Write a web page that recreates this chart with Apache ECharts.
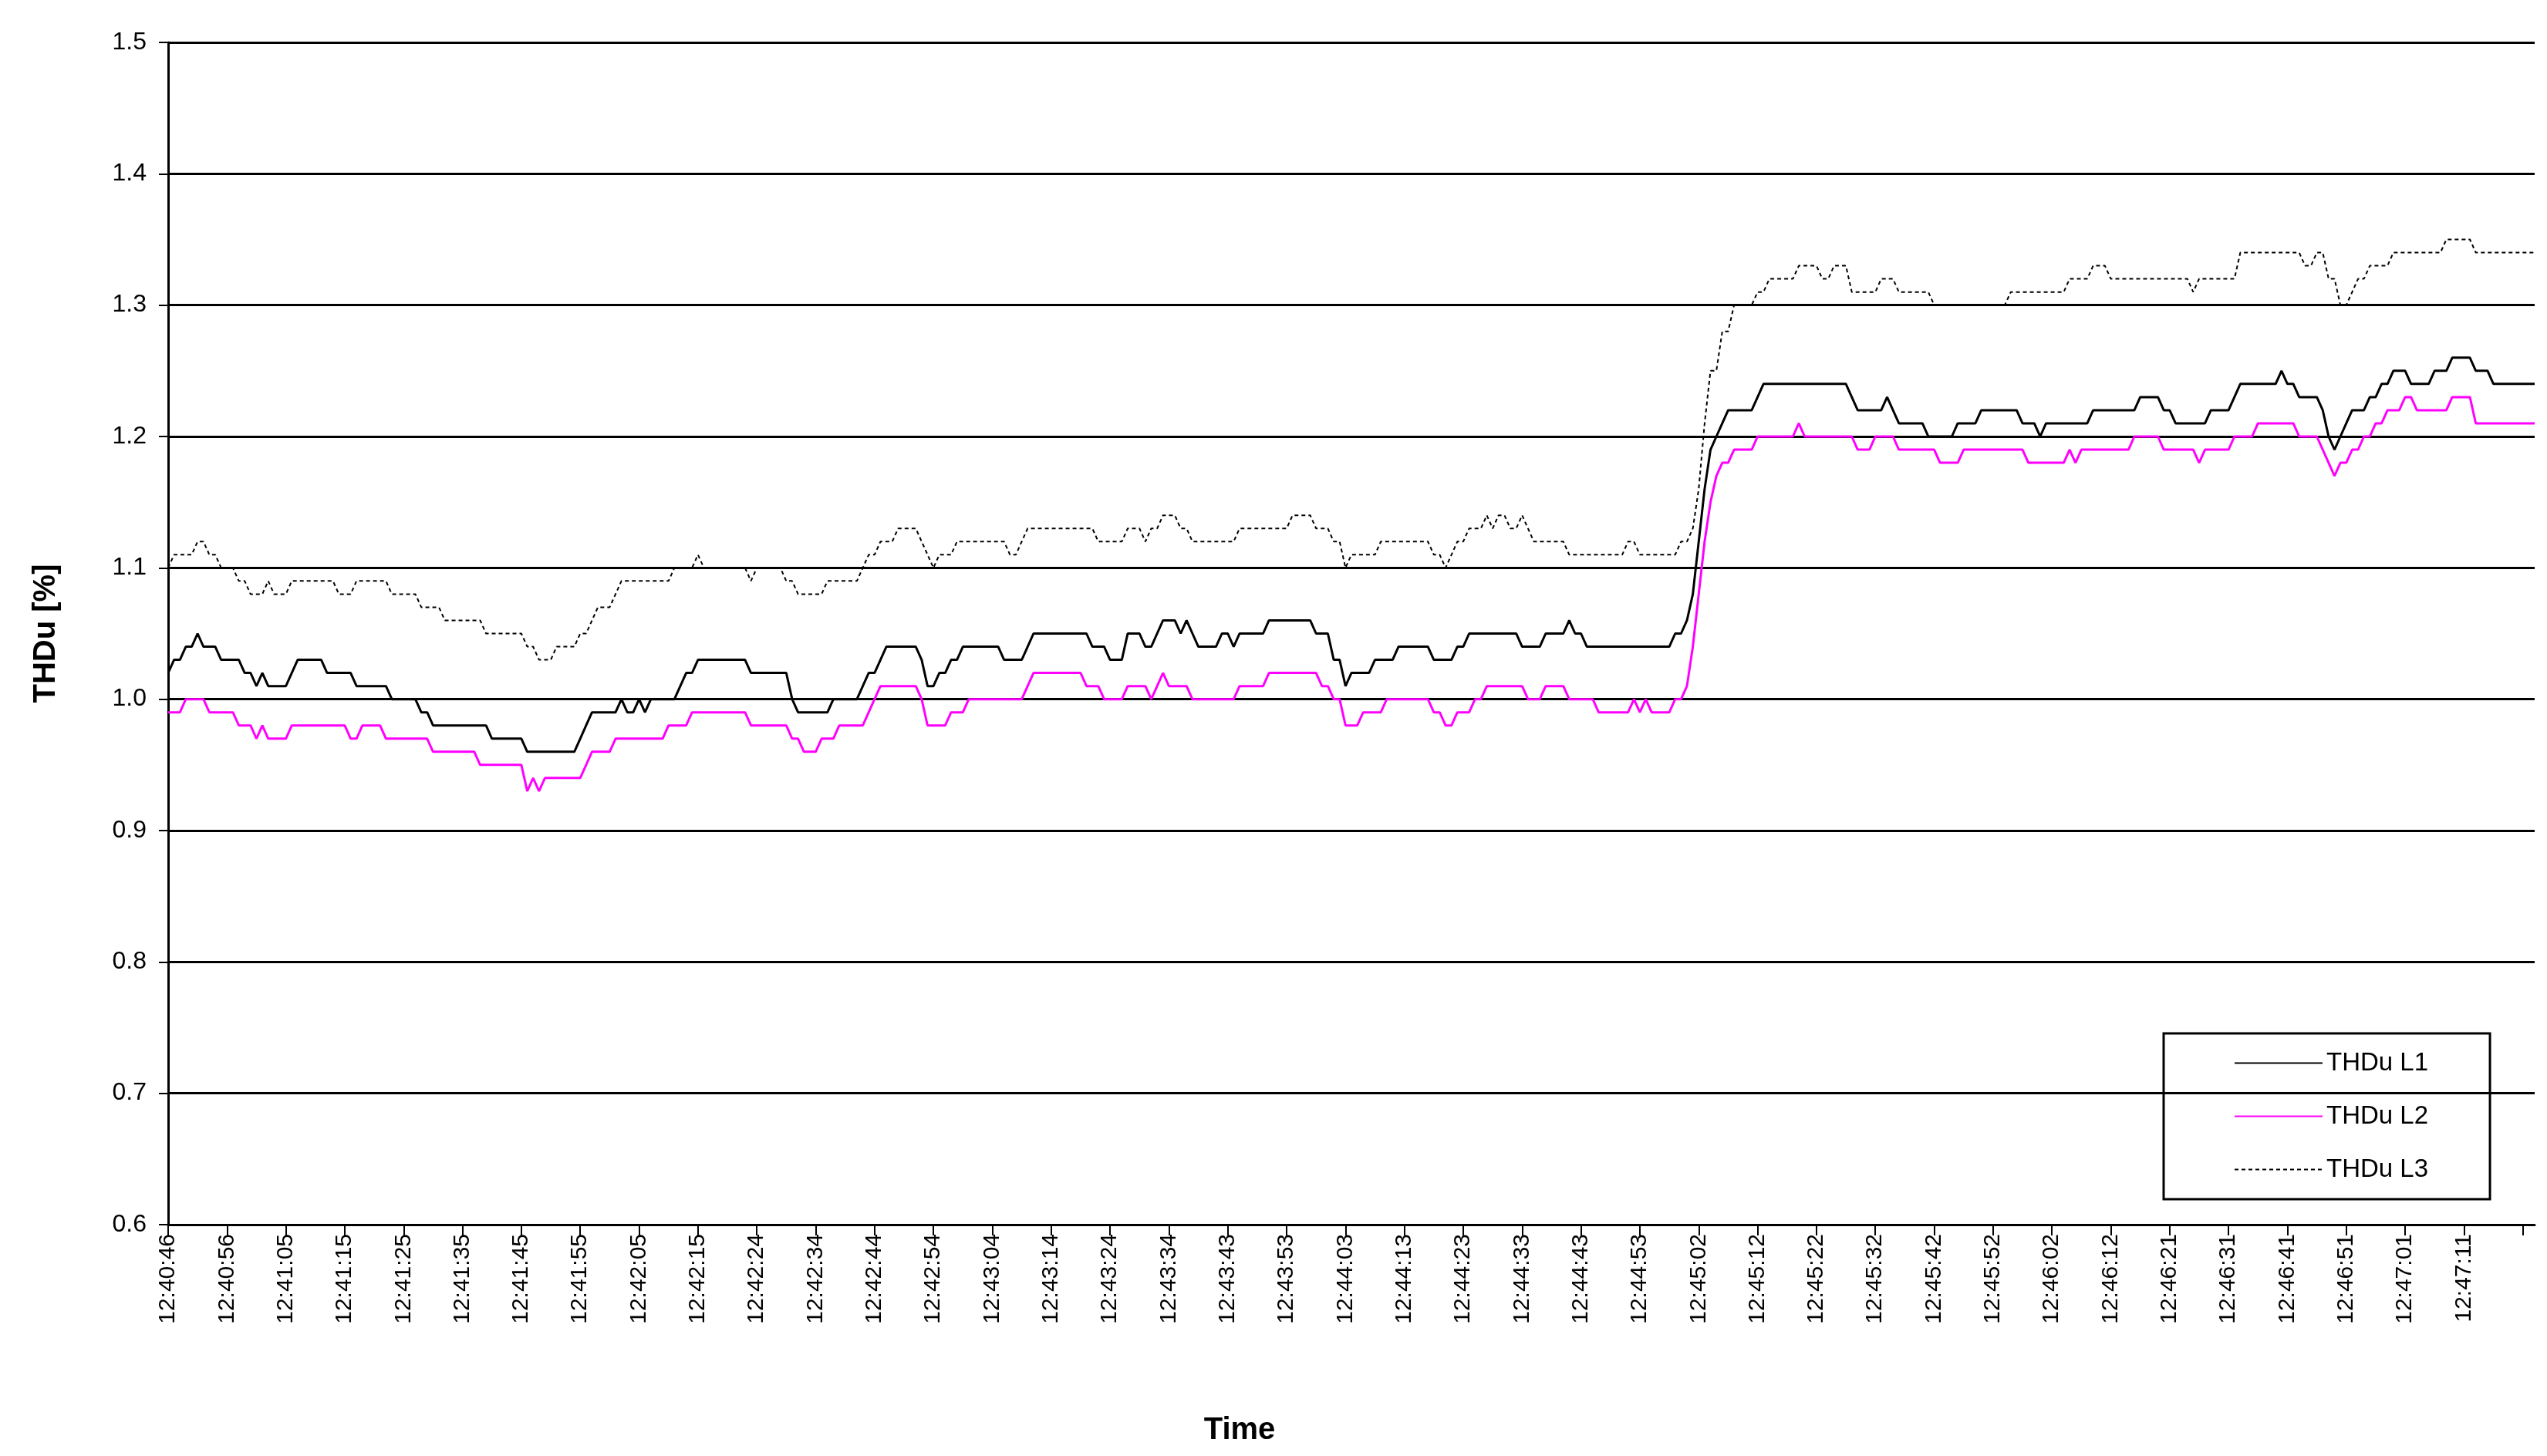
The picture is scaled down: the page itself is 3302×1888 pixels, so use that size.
<!DOCTYPE html>
<html><head><meta charset="utf-8">
<script src="https://cdn.jsdelivr.net/npm/echarts@6/dist/echarts.min.js"></script>
<style>html,body{margin:0;padding:0;background:#fff}#c{width:3302px;height:1888px}</style>
</head><body><div id="c"></div>
<script>
const tickLabels = ["12:40:46","12:40:56","12:41:05","12:41:15","12:41:25","12:41:35","12:41:45","12:41:55","12:42:05","12:42:15","12:42:24","12:42:34","12:42:44","12:42:54","12:43:04","12:43:14","12:43:24","12:43:34","12:43:43","12:43:53","12:44:03","12:44:13","12:44:23","12:44:33","12:44:43","12:44:53","12:45:02","12:45:12","12:45:22","12:45:32","12:45:42","12:45:52","12:46:02","12:46:12","12:46:21","12:46:31","12:46:41","12:46:51","12:47:01","12:47:11"];
const sampleCount = 403;
// [sample index, value] readings; each value holds until the next reading
const l1Readings = [[0,1.02],[1,1.03],[3,1.04],[5,1.05],[6,1.04],[9,1.03],[13,1.02],[15,1.01],[16,1.02],[17,1.01],[21,1.02],[22,1.03],[27,1.02],[32,1.01],[38,1.00],[43,0.99],[45,0.98],[55,0.97],[61,0.96],[70,0.97],[71,0.98],[72,0.99],[77,1.00],[78,0.99],[80,1.00],[81,0.99],[82,1.00],[87,1.01],[88,1.02],[90,1.03],[99,1.02],[106,1.00],[107,0.99],[113,1.00],[118,1.01],[119,1.02],[121,1.03],[122,1.04],[128,1.03],[129,1.01],[131,1.02],[133,1.03],[135,1.04],[142,1.03],[146,1.04],[147,1.05],[157,1.04],[160,1.03],[163,1.05],[166,1.04],[168,1.05],[169,1.06],[172,1.05],[173,1.06],[174,1.05],[175,1.04],[179,1.05],[181,1.04],[182,1.05],[187,1.06],[195,1.05],[198,1.03],[200,1.01],[201,1.02],[205,1.03],[209,1.04],[215,1.03],[219,1.04],[221,1.05],[230,1.04],[234,1.05],[238,1.06],[239,1.05],[241,1.04],[256,1.05],[258,1.06],[259,1.08],[260,1.12],[261,1.16],[262,1.19],[263,1.2],[264,1.21],[265,1.22],[270,1.23],[271,1.24],[286,1.23],[287,1.22],[292,1.23],[293,1.22],[294,1.21],[299,1.2],[304,1.21],[308,1.22],[315,1.21],[318,1.2],[319,1.21],[327,1.22],[335,1.23],[339,1.22],[341,1.21],[347,1.22],[351,1.23],[352,1.24],[359,1.25],[360,1.24],[362,1.23],[366,1.22],[367,1.2],[368,1.19],[369,1.2],[370,1.21],[371,1.22],[374,1.23],[376,1.24],[378,1.25],[381,1.24],[385,1.25],[388,1.26],[392,1.25],[395,1.24]];
const l2Readings = [[0,0.99],[3,1.00],[7,0.99],[12,0.98],[15,0.97],[16,0.98],[17,0.97],[21,0.98],[31,0.97],[33,0.98],[37,0.97],[45,0.96],[53,0.95],[61,0.93],[62,0.94],[63,0.93],[64,0.94],[71,0.95],[72,0.96],[76,0.97],[85,0.98],[89,0.99],[99,0.98],[106,0.97],[108,0.96],[111,0.97],[114,0.98],[119,0.99],[120,1.00],[121,1.01],[128,1.00],[129,0.98],[133,0.99],[136,1.00],[146,1.01],[147,1.02],[156,1.01],[159,1.00],[163,1.01],[167,1.00],[168,1.01],[169,1.02],[170,1.01],[174,1.00],[182,1.01],[187,1.02],[196,1.01],[198,1.00],[200,0.98],[203,0.99],[207,1.00],[215,0.99],[217,0.98],[219,0.99],[222,1.00],[224,1.01],[231,1.00],[234,1.01],[238,1.00],[243,0.99],[249,1.00],[250,0.99],[251,1.00],[252,0.99],[256,1.00],[258,1.01],[259,1.04],[260,1.08],[261,1.12],[262,1.15],[263,1.17],[264,1.18],[266,1.19],[270,1.2],[277,1.21],[278,1.2],[287,1.19],[290,1.2],[294,1.19],[301,1.18],[305,1.19],[316,1.18],[323,1.19],[324,1.18],[325,1.19],[334,1.2],[339,1.19],[345,1.18],[346,1.19],[351,1.2],[355,1.21],[362,1.2],[366,1.19],[367,1.18],[368,1.17],[369,1.18],[371,1.19],[373,1.2],[375,1.21],[377,1.22],[380,1.23],[382,1.22],[388,1.23],[392,1.21]];
const l3Readings = [[0,1.10],[1,1.11],[5,1.12],[7,1.11],[9,1.10],[12,1.09],[14,1.08],[17,1.09],[18,1.08],[21,1.09],[29,1.08],[32,1.09],[38,1.08],[43,1.07],[47,1.06],[54,1.05],[61,1.04],[63,1.03],[66,1.04],[70,1.05],[72,1.06],[73,1.07],[76,1.08],[77,1.09],[86,1.10],[90,1.11],[91,1.10],[99,1.09],[100,1.10],[105,1.09],[107,1.08],[112,1.09],[118,1.10],[119,1.11],[121,1.12],[124,1.13],[128,1.12],[129,1.11],[130,1.10],[131,1.11],[134,1.12],[143,1.11],[145,1.12],[146,1.13],[158,1.12],[163,1.13],[166,1.12],[167,1.13],[169,1.14],[172,1.13],[174,1.12],[182,1.13],[191,1.14],[195,1.13],[198,1.12],[200,1.10],[201,1.11],[206,1.12],[215,1.11],[217,1.10],[218,1.11],[219,1.12],[221,1.13],[224,1.14],[225,1.13],[226,1.14],[228,1.13],[230,1.14],[231,1.13],[232,1.12],[238,1.11],[248,1.12],[250,1.11],[257,1.12],[259,1.13],[260,1.16],[261,1.21],[262,1.25],[264,1.28],[266,1.30],[270,1.31],[272,1.32],[277,1.33],[281,1.32],[283,1.33],[286,1.31],[291,1.32],[294,1.31],[300,1.30],[313,1.31],[323,1.32],[327,1.33],[330,1.32],[344,1.31],[345,1.32],[352,1.34],[363,1.33],[365,1.34],[367,1.32],[369,1.30],[371,1.31],[372,1.32],[374,1.33],[378,1.34],[387,1.35],[392,1.34]];

function expand(readings){
  const out=[]; let k=0;
  for(let i=0;i<sampleCount;i++){
    while(k+1<readings.length && readings[k+1][0]<=i) k++;
    out.push(readings[k][1]);
  }
  return out;
}
const cats=[]; for(let i=0;i<sampleCount;i++) cats.push(i);
const font='Liberation Sans, Arial, sans-serif';
const chart=echarts.init(document.getElementById('c'));
chart.setOption({
  animation:false,
  backgroundColor:'#fff',
  grid:{left:218,right:16,top:55,bottom:300},
  title:{text:'Time',left:1602,top:1830,textAlign:'center',
    textStyle:{fontFamily:font,fontSize:40,fontWeight:'bold',color:'#000'}},
  legend:{orient:'vertical',left:2805,top:1340,
    padding:[22,80,22,91],itemGap:36,itemWidth:114,itemHeight:6,
    borderColor:'#000',borderWidth:3,
    itemStyle:{opacity:0},
    textStyle:{fontFamily:font,fontSize:33,color:'#000'},
    data:['THDu L1','THDu L2','THDu L3']},
  xAxis:{type:'category',data:cats,boundaryGap:false,
    axisLine:{lineStyle:{color:'#000',width:3}},
    axisTick:{interval:9,length:14,lineStyle:{color:'#000',width:2}},
    axisLabel:{interval:9,rotate:90,fontFamily:font,fontSize:30,color:'#000',margin:12,
      formatter:(v,i)=>tickLabels[Math.round(i/10)]||''},
    splitLine:{show:false}},
  yAxis:{type:'value',min:0.6,max:1.5,interval:0.1,
    name:'THDu [%]',nameLocation:'middle',nameGap:138,nameRotate:90,
    nameTextStyle:{fontFamily:font,fontSize:40,fontWeight:'bold',color:'#000'},
    axisLine:{show:true,lineStyle:{color:'#000',width:3}},
    axisTick:{show:true,length:12,lineStyle:{color:'#000',width:2}},
    axisLabel:{fontFamily:font,fontSize:32,color:'#000',margin:28,formatter:v=>v.toFixed(1)},
    splitLine:{lineStyle:{color:'#000',width:3}}},
  series:[
    {name:'THDu L1',type:'line',data:expand(l1Readings),showSymbol:false,symbol:'none',
      lineStyle:{color:'#000',width:3},itemStyle:{color:'#000'},z:4},
    {name:'THDu L2',type:'line',data:expand(l2Readings),showSymbol:false,symbol:'none',
      lineStyle:{color:'#ff00ff',width:3},itemStyle:{color:'#ff00ff'},z:3},
    {name:'THDu L3',type:'line',data:expand(l3Readings),showSymbol:false,symbol:'none',
      lineStyle:{color:'#000',width:2,type:[5,4]},itemStyle:{color:'#000'},z:5}
  ]
});
</script></body></html>
